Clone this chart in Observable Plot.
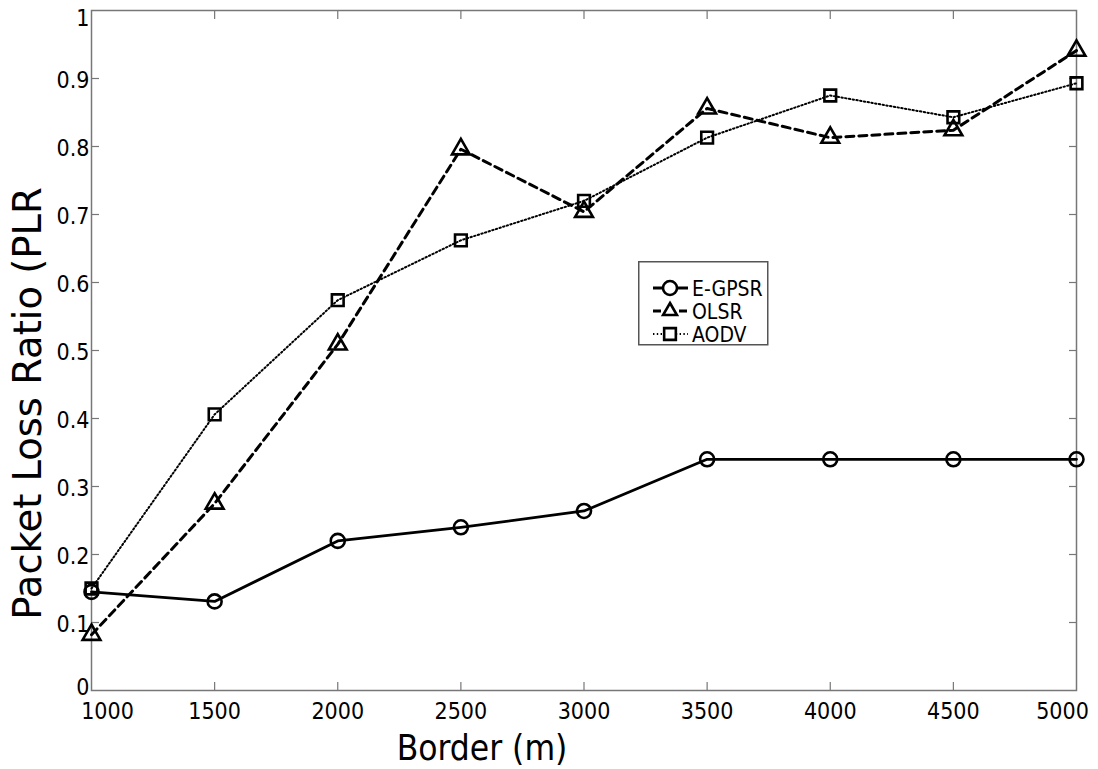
<!DOCTYPE html>
<html><head><meta charset="utf-8">
<script src="https://cdn.jsdelivr.net/npm/d3@7"></script>
<script src="https://cdn.jsdelivr.net/npm/@observablehq/plot@0.6"></script>
<style>
body{margin:0;background:#fff;}
#wrap{position:relative;width:1098px;height:769px;}
#legend{position:absolute;left:638px;top:261px;}
</style></head>
<body><div id="wrap"></div>
<script>
const borders = [1000, 1500, 2000, 2500, 3000, 3500, 4000, 4500, 5000];
const egpsr = [0.145, 0.131, 0.220, 0.240, 0.264, 0.340, 0.340, 0.340, 0.340];
const olsr  = [0.082, 0.275, 0.509, 0.796, 0.704, 0.856, 0.813, 0.824, 0.941];
const aodv  = [0.150, 0.406, 0.574, 0.662, 0.720, 0.813, 0.875, 0.843, 0.893];
const seriesNames = ["E-GPSR", "OLSR", "AODV"];
const xTicks = [1000, 1500, 2000, 2500, 3000, 3500, 4000, 4500, 5000];
const yTicks = [0, 0.1, 0.2, 0.3, 0.4, 0.5, 0.6, 0.7, 0.8, 0.9, 1];
const yTickLabels = ["0", "0.1", "0.2", "0.3", "0.4", "0.5", "0.6", "0.7", "0.8", "0.9", "1"];
const xTitle = "Border (m)";
const yTitle = "Packet Loss Ratio (PLR";

const styles = {
  "E-GPSR": {dash: null, width: 2.8, symbol: "circle", r: 7},
  "OLSR":   {dash: "8,5", width: 3, symbol: "triangle", r: 6.6},
  "AODV":   {dash: "1.4,2.4", width: 2, symbol: "square", r: 6.6}
};
const valuesBy = {"E-GPSR": egpsr, "OLSR": olsr, "AODV": aodv};
const rows = seriesNames.flatMap(s => borders.map((b, i) => ({series: s, x: b, y: valuesBy[s][i]})));

const FONT = "'DejaVu Sans Condensed', 'DejaVu Sans', sans-serif";
const fmtY = d => yTickLabels[yTicks.indexOf(d)];
const inner = a => a.slice(1, -1);
const tickStyle = {stroke: "#777", strokeWidth: 1.2, tickSize: -8, tickFormat: () => "", label: null};
const xLab = {anchor: "bottom", tickSize: 0, tickPadding: 12, fontSize: 23, label: null, tickFormat: d => String(d)};
const yLab = {anchor: "left", tickSize: 0, tickPadding: 2, fontSize: 23, label: null, tickFormat: fmtY};

const marks = [
  Plot.frame({stroke: "#777", strokeWidth: 1.5}),
  Plot.axisX(inner(xTicks), {anchor: "bottom", ...tickStyle}),
  Plot.axisX(inner(xTicks), {anchor: "top", ...tickStyle}),
  Plot.axisY(inner(yTicks), {anchor: "left", ...tickStyle}),
  Plot.axisY(inner(yTicks), {anchor: "right", ...tickStyle}),
  Plot.axisX(inner(xTicks), xLab),
  Plot.axisX([xTicks[0]], {...xLab, dx: 16}),
  Plot.axisX([xTicks[xTicks.length - 1]], {...xLab, dx: -14}),
  Plot.axisY(inner(yTicks), {...yLab, dy: 2}),
  Plot.axisY([yTicks[0]], {...yLab, dy: -3}),
  Plot.axisY([yTicks[yTicks.length - 1]], {...yLab, dy: 8}),
  Plot.text([xTitle], {frameAnchor: "bottom", textAnchor: "middle", lineAnchor: "bottom", dx: -102, dy: 69, fontSize: 35, fill: "black"}),
  Plot.text([yTitle], {frameAnchor: "left", textAnchor: "middle", lineAnchor: "middle", rotate: -90, dx: -63, dy: 53, fontSize: 38.5, fill: "black", fontFamily: "'DejaVu Sans', sans-serif"})
];
for (const s of seriesNames) {
  const st = styles[s];
  const d = rows.filter(r => r.series === s);
  marks.push(Plot.line(d, {x: "x", y: "y", stroke: "black", strokeWidth: st.width, strokeDasharray: st.dash}));
}
for (const s of seriesNames) {
  const st = styles[s];
  const d = rows.filter(r => r.series === s);
  marks.push(Plot.dot(d, {x: "x", y: "y", symbol: st.symbol, r: st.r, stroke: "black", strokeWidth: 2.6, fill: "none"}));
}

const chart = Plot.plot({
  width: 1098, height: 769,
  marginLeft: 91, marginRight: 22, marginTop: 10, marginBottom: 79,
  style: {fontFamily: FONT, background: "white", color: "black"},
  x: {domain: [1000, 5000]},
  y: {domain: [0, 1]},
  marks
});
const wrap = document.getElementById("wrap");
wrap.appendChild(chart);

// legend
const lg = d3.select(wrap).append("svg").attr("id", "legend").attr("width", 132).attr("height", 86);
lg.append("rect").attr("x", 0.75).attr("y", 0.75).attr("width", 129).attr("height", 83)
  .attr("fill", "white").attr("stroke", "#555").attr("stroke-width", 1.5);
const symMap = {circle: d3.symbolCircle, triangle: d3.symbolTriangle2, square: d3.symbolSquare};
seriesNames.forEach((s, i) => {
  const st = styles[s];
  const cy = 27 + i * 23;
  lg.append("line").attr("x1", 15).attr("x2", 50).attr("y1", cy).attr("y2", cy)
    .attr("stroke", "black").attr("stroke-width", st.width).attr("stroke-dasharray", st.dash);
  lg.append("path").attr("transform", `translate(32,${cy})`)
    .attr("d", d3.symbol(symMap[st.symbol], Math.PI * st.r * st.r)())
    .attr("fill", "white").attr("stroke", "black").attr("stroke-width", 2.6);
  lg.append("text").attr("x", 54).attr("y", cy).attr("dy", "0.36em")
    .attr("font-family", FONT).attr("font-size", 21).text(s);
});
</script>
</body></html>
